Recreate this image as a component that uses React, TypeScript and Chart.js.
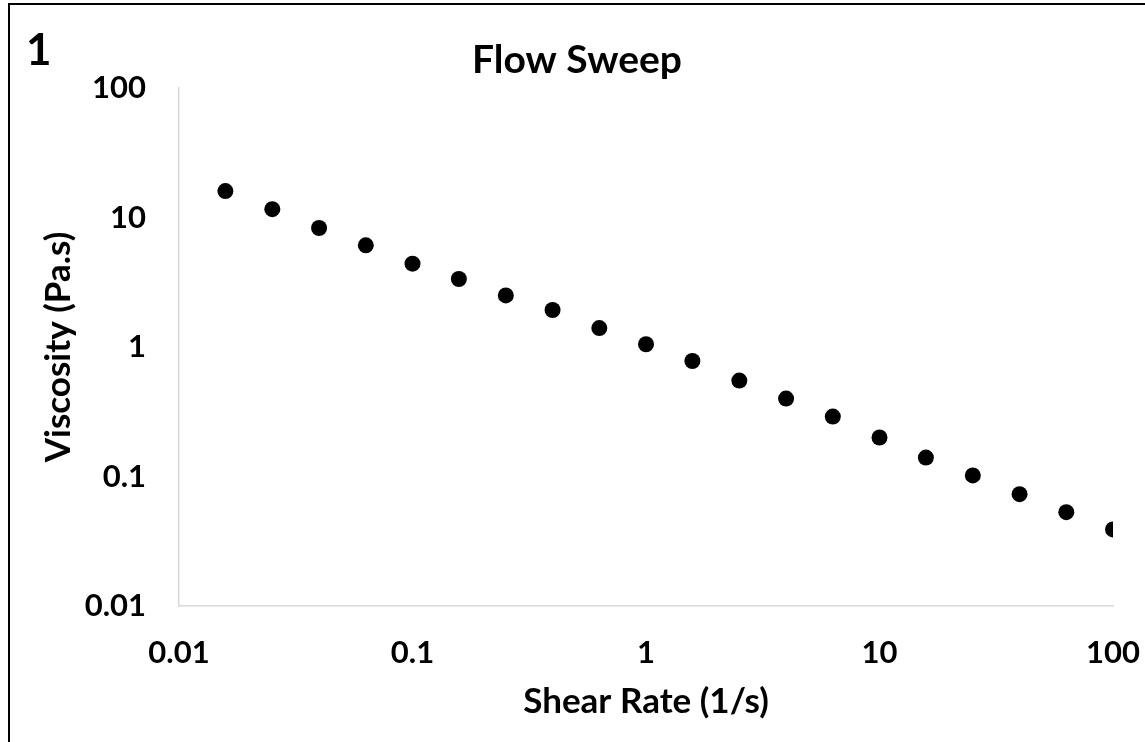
import React, { useEffect, useRef } from "react";
import { Chart, registerables } from "chart.js";

Chart.register(...registerables);

const shearRate = [0.0158, 0.0251, 0.0398, 0.0631, 0.1, 0.158, 0.251, 0.398, 0.631, 1, 1.58, 2.51, 3.98, 6.31, 10, 15.8, 25.1, 39.8, 63.1, 100];
const viscosity = [16.0, 11.6, 8.3, 6.1, 4.4, 3.35, 2.5, 1.93, 1.4, 1.05, 0.78, 0.55, 0.4, 0.29, 0.2, 0.14, 0.102, 0.073, 0.053, 0.039];
const xTickValues = [0.01, 0.1, 1, 10, 100];
const xTickLabels = ["0.01", "0.1", "1", "10", "100"];
const yTickValues = [0.01, 0.1, 1, 10, 100];
const yTickLabels = ["0.01", "0.1", "1", "10", "100"];

const FONT = "Lato, 'Open Sans', sans-serif";

export default function App() {
  const canvasRef = useRef<HTMLCanvasElement | null>(null);

  useEffect(() => {
    const prevMargin = document.body.style.margin;
    document.body.style.margin = "0";
    document.body.style.overflow = "hidden";
    const canvas = canvasRef.current;
    if (!canvas) return;
    const chart = new Chart(canvas, {
      type: "scatter",
      data: {
        datasets: [
          {
            label: "Viscosity",
            data: shearRate.map((x, i) => ({ x, y: viscosity[i] })),
            backgroundColor: "#000000",
            borderColor: "#000000",
            borderWidth: 0,
            pointRadius: 8,
            pointHoverRadius: 8,
            showLine: false,
          },
        ],
      },
      options: {
        animation: false,
        responsive: false,
        devicePixelRatio: 1,
        layout: { padding: { left: 33, right: 33, top: 0, bottom: 0 } },
        plugins: {
          legend: { display: false },
          tooltip: { enabled: false },
          title: {
            display: true,
            text: "Flow Sweep",
            color: "#000000",
            font: { family: FONT, size: 39, weight: "bold", lineHeight: 1.2 },
            padding: { top: 36.6, bottom: 4.6 },
          },
        },
        scales: {
          x: {
            type: "logarithmic",
            min: 0.01,
            max: 100,
            afterBuildTicks: (s: any) => {
              s.ticks = xTickValues.map((v) => ({ value: v }));
            },
            afterFit: (s: any) => {
              s.height = 136;
              s.paddingLeft = 0;
              s.paddingRight = 0;
            },
            grid: { display: false, drawTicks: false },
            border: { display: true, color: "#d9d9d9", width: 1.5 },
            ticks: {
              autoSkip: false,
              maxRotation: 0,
              padding: 28,
              color: "#000000",
              font: { family: FONT, size: 31, weight: "bold", lineHeight: 1.2 },
              callback: (_v: any, i: number) => xTickLabels[i],
            },
            title: {
              display: true,
              text: "Shear Rate (1/s)",
              color: "#000000",
              font: { family: FONT, size: 35, weight: "bold", lineHeight: 1.2 },
              padding: { top: 0, bottom: 19 },
            },
          },
          y: {
            type: "logarithmic",
            min: 0.01,
            max: 100,
            afterBuildTicks: (s: any) => {
              s.ticks = yTickValues.map((v) => ({ value: v }));
            },
            afterFit: (s: any) => {
              s.width = 138;
              s.paddingTop = 0;
              s.paddingBottom = 0;
            },
            grid: { display: false, drawTicks: false },
            border: { display: true, color: "#d9d9d9", width: 1.5 },
            ticks: {
              autoSkip: false,
              padding: 33,
              color: "#000000",
              font: { family: FONT, size: 31, weight: "bold", lineHeight: 1.2 },
              callback: (_v: any, i: number) => yTickLabels[i],
            },
            title: {
              display: true,
              text: "Viscosity (Pa.s)",
              color: "#000000",
              font: { family: FONT, size: 35, weight: "bold", lineHeight: 1 },
              padding: { top: 0, bottom: 0 },
            },
          },
        },
      },
    });
    return () => {
      chart.destroy();
      document.body.style.margin = prevMargin;
    };
  }, []);

  return (
    <div style={{ position: "fixed", left: 0, top: 0, width: 1145, height: 742, overflow: "hidden", background: "#ffffff" }}>
      <div
        style={{
          position: "absolute",
          left: 8,
          top: 3,
          width: 2000,
          height: 2000,
          borderTop: "2px solid #000",
          borderLeft: "2px solid #000",
        }}
      />
      <div
        style={{
          position: "absolute",
          left: 8,
          top: 0,
          width: 1138,
          height: 742,
        }}
      >
        <canvas ref={canvasRef} width={1138} height={742} style={{ width: 1138, height: 742, display: "block" }} />
      </div>
      <div
        style={{
          position: "absolute",
          left: 26,
          top: 26,
          fontFamily: FONT,
          fontWeight: "bold",
          fontSize: 44,
          lineHeight: 1,
          color: "#000",
        }}
      >
        1
      </div>
    </div>
  );
}
